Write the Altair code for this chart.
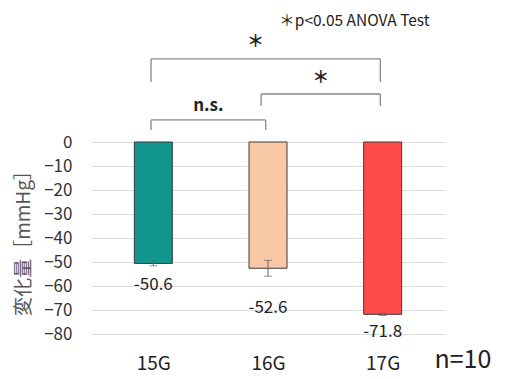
import altair as alt
import pandas as pd

groups = ["15G", "16G", "17G"]
means = [-50.6, -52.6, -71.8]
errs = [1.0, 3.3, 0.5]
colors = ["#13958F", "#F8C7A6", "#FF4A4A"]

# significance brackets: from, to, label
br_from = ["15G", "16G", "15G"]
br_to = ["17G", "17G", "16G"]
br_label = ["＊", "＊", "n.s."]

FONT = "Noto Sans CJK JP"

df = pd.DataFrame({"group": groups, "pos": list(range(len(groups))),
                   "mean": means, "err": errs, "color": colors})
df["lo"] = df["mean"] - df["err"]
df["hi"] = df["mean"] + df["err"]
df["label"] = [f"{m:.1f}" for m in means]
df["label_y"] = df["mean"] - 3.3 * df["err"] - 5.6

idx = {g: i for i, g in enumerate(groups)}
# annotation geometry (y in data units above 0)
br_top = [34.6, 20.0, 9.2]
br_leg = [25.0, 15.0, 5.0]
br_text_y = [41.7, 26.5, 15.0]
bdf = pd.DataFrame({
    "x1": [idx[g] - 0.02 for g in br_from],
    "x2": [idx[g] - 0.02 for g in br_to],
    "top": br_top, "leg": br_leg, "ty": br_text_y, "label": br_label,
})
bdf.loc[1, "x1"] = idx["16G"] - 0.06
bdf["mid"] = (bdf["x1"] + bdf["x2"]) / 2
bdf.loc[0, "mid"] = bdf.loc[0, "mid"] - 0.09

xscale = alt.Scale(domain=[-0.5, 2.5], nice=False, zero=False)
yscale = alt.Scale(domain=[-80, 0], nice=False)

label_expr = "[" + ",".join(f"'{g}'" for g in groups) + "][datum.value]"

X_AX = alt.Axis(values=[0, 1, 2], labelExpr=label_expr, title=None,
                grid=False, domain=False, ticks=False, labelPadding=20,
                labelFontSize=19, labelColor="#222", labelFont=FONT,
                labelOverlap=False)
Y_AX = alt.Axis(values=list(range(-80, 1, 10)), title="変化量［mmHg］",
                titleFont=FONT, titleFontSize=19, titleFontWeight="normal",
                titleColor="#555", titleX=-68, titleY=96, titleAngle=270,
                titleAlign="center", titleBaseline="middle",
                domain=False, ticks=False, labelPadding=19, labelOverlap=False,
                labelFontSize=17, labelColor="#333", labelFont=FONT,
                grid=True, gridColor="#dddddd", gridWidth=1)


def X(f):
    return alt.X(f, type="quantitative", scale=xscale, axis=X_AX)


def Y(f):
    return alt.Y(f, type="quantitative", scale=yscale, axis=Y_AX)


base = alt.Chart(df)

bars = base.mark_bar(size=38, stroke="#3a3a3a", strokeWidth=1).encode(
    x=X("pos"), y=Y("mean"), y2=alt.datum(0),
    color=alt.Color("color:N", scale=None),
)

err_rule = base.mark_rule(color="#666", strokeWidth=1).encode(
    x=X("pos"), y=Y("lo"), y2="hi:Q")
cap_lo = base.mark_tick(color="#666", size=8, thickness=1, orient="horizontal").encode(
    x=X("pos"), y=Y("lo"))
cap_hi = base.mark_tick(color="#666", size=8, thickness=1, orient="horizontal").encode(
    x=X("pos"), y=Y("hi"))

labels = base.mark_text(fontSize=17, font=FONT, color="#222", baseline="middle").encode(
    x=X("pos"), y=Y("label_y"), text="label:N")

bb = alt.Chart(bdf)
br_h = bb.mark_rule(color="#888", strokeWidth=1.3, clip=False).encode(
    x=X("x1"), x2="x2:Q", y=Y("top"))
br_l = bb.mark_rule(color="#888", strokeWidth=1.3, clip=False).encode(
    x=X("x1"), y=Y("top"), y2="leg:Q")
br_r = bb.mark_rule(color="#888", strokeWidth=1.3, clip=False).encode(
    x=X("x2"), y=Y("top"), y2="leg:Q")
br_t = bb.mark_text(fontSize=17, font=FONT, fontWeight="bold", color="#222",
                    baseline="middle", clip=False).encode(
    x=X("mid"), y=Y("ty"), text="label:N")

ann = pd.DataFrame({"x": [1.754, 2.70], "y": [48.3, -91.0],
                    "t": ["＊p<0.05  ANOVA Test", "n=10"]})
ann_t1 = alt.Chart(ann.iloc[[0]]).mark_text(fontSize=15.5, font=FONT, color="#222",
                                            baseline="alphabetic", clip=False).encode(
    x=X("x"), y=Y("y"), text="t:N")
ann_t2 = alt.Chart(ann.iloc[[1]]).mark_text(fontSize=25, font=FONT, color="#222",
                                            baseline="middle", clip=False).encode(
    x=X("x"), y=Y("y"), text="t:N")

chart = alt.layer(bars, err_rule, cap_lo, cap_hi, labels, br_h, br_l, br_r, br_t,
                  ann_t1, ann_t2).properties(
    width=354, height=192,
    autosize=alt.AutoSizeParams(type="none"),
    padding={"left": 83, "top": 134, "right": 54, "bottom": 40},
).configure(background="white").configure_view(strokeWidth=0, stroke="transparent")

chart.save("out.html", embed_options={"renderer": "svg", "actions": False})
